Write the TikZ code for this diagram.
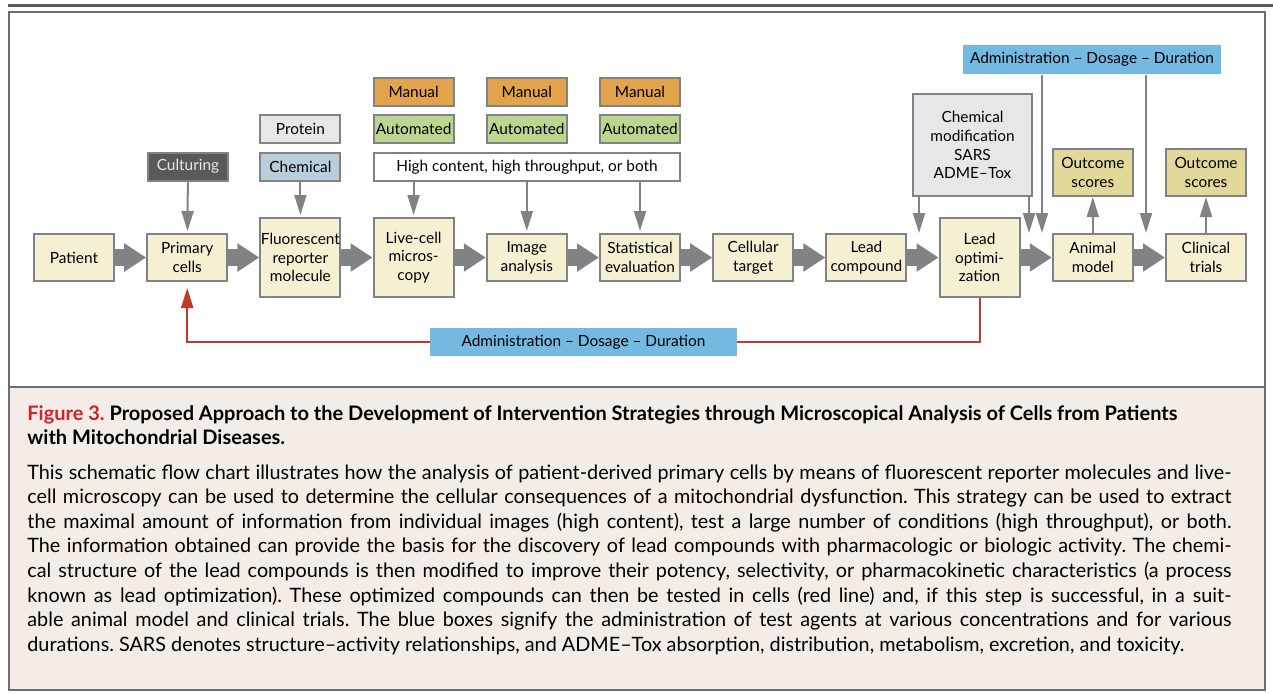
\documentclass[tikz,border=0pt]{standalone}
\usepackage{fontspec}
\setmainfont{Lato}
\usepackage{tikz}
\usetikzlibrary{arrows.meta}

\definecolor{cream}{HTML}{F6F0D3}
\definecolor{rim}{HTML}{808285}
\definecolor{manualorange}{HTML}{E3A34A}
\definecolor{autogreen}{HTML}{BDD68F}
\definecolor{palegray}{HTML}{E6E7E8}
\definecolor{chemblue}{HTML}{B8CEDB}
\definecolor{darkgray}{HTML}{58595B}
\definecolor{scorekhaki}{HTML}{E2D899}
\definecolor{adminblue}{HTML}{74B9E1}
\definecolor{loopred}{HTML}{C0392B}
\definecolor{framegray}{HTML}{6D6E71}
\definecolor{captionbg}{HTML}{F3ECE7}
\definecolor{figred}{HTML}{D2232A}

\newcommand{\boxfont}{\fontsize{7.7pt}{9.4pt}\selectfont}
\newcommand{\capline}[1]{\makebox[602pt][s]{#1}}

\tikzset{
  stage/.style={draw=rim, fill=cream, line width=1pt, minimum width=40pt,
    minimum height=23.5pt, inner sep=0pt, align=center, font=\boxfont},
  tallstage/.style={stage, minimum height=39.5pt},
  optbox/.style={stage, minimum height=14pt},
  dosebox/.style={stage, draw=none, fill=adminblue, minimum height=14.5pt},
  feed/.style={draw=rim, line width=1pt, -{Triangle[length=10pt,width=6pt]}},
  flow/.style={draw=rim, line width=8.5pt, -{Triangle[length=11pt,width=13.5pt]}},
}

\begin{document}
\frenchspacing
\begin{tikzpicture}[x=0.5pt, y=-0.5pt]

\useasboundingbox (0,0) rectangle (1273,693);
\fill[captionbg] (9,387) rectangle (1265,690);
\draw[framegray, line width=1pt] (9,12) rectangle (1265,690);
\draw[framegray, line width=1pt] (9,387) -- (1265,387);
\draw[darkgray, line width=1.5pt] (8,5) -- (1273,5);

% main row
\node[stage] (patient) at (74,257.5) {Patient};
\node[stage] (primary) at (187.2,257.5) {Primary\\cells};
\node[tallstage] (fluor) at (300.4,257.5) {Fluorescent\\reporter\\molecule};
\node[tallstage] (live) at (413.6,257.5) {Live-cell\\micros-\\copy};
\node[stage] (image) at (526.8,257.5) {Image\\analysis};
\node[stage] (stats) at (640,257.5) {Statistical\\evaluation};
\node[stage] (cellular) at (753.2,257.5) {Cellular\\target};
\node[stage] (leadcomp) at (866.4,257.5) {Lead\\compound};
\node[tallstage] (leadopt) at (979.6,257.5) {Lead\\optimi-\\zation};
\node[stage] (animal) at (1092.8,257.5) {Animal\\model};
\node[stage] (clinical) at (1206,257.5) {Clinical\\trials};

\draw[flow] (patient.east) -- (primary.west);
\draw[flow] (primary.east) -- (fluor.west);
\draw[flow] (fluor.east) -- (live.west);
\draw[flow] (live.east) -- (image.west);
\draw[flow] (image.east) -- (stats.west);
\draw[flow] (stats.east) -- (cellular.west);
\draw[flow] (cellular.east) -- (leadcomp.west);
\draw[flow] (leadcomp.east) -- (leadopt.west);
\draw[flow] (leadopt.east) -- (animal.west);
\draw[flow] (animal.east) -- (clinical.west);

% inputs above
\node[optbox, fill=darkgray, text=palegray] (culturing) at (188,166.5) {Culturing};
\node[optbox, fill=palegray] (protein) at (300.4,129) {Protein};
\node[optbox, fill=chemblue] (chemical) at (300.4,167) {Chemical};
\node[optbox, fill=manualorange] (manual1) at (413.6,92) {Manual};
\node[optbox, fill=manualorange] (manual2) at (526.8,92) {Manual};
\node[optbox, fill=manualorange] (manual3) at (640,92) {Manual};
\node[optbox, fill=autogreen] (auto1) at (413.6,129) {Automated};
\node[optbox, fill=autogreen] (auto2) at (526.8,129) {Automated};
\node[optbox, fill=autogreen] (auto3) at (640,129) {Automated};
\node[optbox, fill=white, minimum width=153pt] (screening) at (527,167) {High content, high throughput, or both};
\node[stage, fill=palegray, minimum width=59.5pt, minimum height=51pt] (chemmod) at (972.5,145) {Chemical\\modification\\SARS\\ADME–Tox};
\node[stage, fill=scorekhaki] (score1) at (1092.8,172.5) {Outcome\\scores};
\node[stage, fill=scorekhaki] (score2) at (1206,172.5) {Outcome\\scores};
\node[dosebox, minimum width=129pt] (dosetop) at (1092,59.5) {Administration – Dosage – Duration};

\draw[feed, shorten >=1pt] (culturing) -- (primary);
\draw[feed, shorten >=1pt] (chemical) -- (fluor);
\draw[feed, shorten >=1pt] (screening.south -| live.north) -- (live.north);
\draw[feed, shorten >=1pt] (screening.south -| image.north) -- (image.north);
\draw[feed, shorten >=1pt] (screening.south -| stats.north) -- (stats.north);

\coordinate (modin) at (919,233);
\coordinate (modout) at (1029,233);
\coordinate (doseanimal) at (1042,233);
\coordinate (doseclinic) at (1146,233);
\draw[feed] (chemmod.south -| modin) -- (modin);
\draw[feed] (chemmod.south -| modout) -- (modout);
\draw[feed] (dosetop.south -| doseanimal) -- (doseanimal);
\draw[feed] (dosetop.south -| doseclinic) -- (doseclinic);
\draw[feed] (animal) -- (score1);
\draw[feed] (clinical) -- (score2);

% test in cells
\coordinate (doseline) at (583.5,342);
\draw[loopred, line width=1pt, -{Triangle[length=10pt,width=6pt]}, shorten >=3pt]
  (leadopt.south) |- (doseline) -| (primary.south);
\node[dosebox, minimum width=153.5pt, minimum height=14pt] (dosebottom) at (doseline) {Administration – Dosage – Duration};

% caption
\node[anchor=north west, inner sep=0pt, align=left, font=\fontsize{10pt}{12pt}\selectfont\bfseries] (title) at (27,405)
  {\textcolor{figred}{Figure 3.} Proposed Approach to the Development of Intervention Strategies through Microscopical Analysis of Cells from Patients\\with Mitochondrial Diseases.};
\node[anchor=north west, inner sep=0pt, align=left, font=\fontsize{9.9pt}{12.3pt}\selectfont] (legend) at (27,464)
  {\capline{This schematic flow chart illustrates how the analysis of patient-derived primary cells by means of fluorescent reporter molecules and live-}\\
   \capline{cell microscopy can be used to determine the cellular consequences of a mitochondrial dysfunction. This strategy can be used to extract}\\
   \capline{the maximal amount of information from individual images (high content), test a large number of conditions (high throughput), or both.}\\
   \capline{The information obtained can provide the basis for the discovery of lead compounds with pharmacologic or biologic activity. The chemi-}\\
   \capline{cal structure of the lead compounds is then modified to improve their potency, selectivity, or pharmacokinetic characteristics (a process}\\
   \capline{known as lead optimization). These optimized compounds can then be tested in cells (red line) and, if this step is successful, in a suit-}\\
   \capline{able animal model and clinical trials. The blue boxes signify the administration of test agents at various concentrations and for various}\\
   durations. SARS denotes structure–activity relationships, and ADME–Tox absorption, distribution, metabolism, excretion, and toxicity.};

\end{tikzpicture}
\end{document}
